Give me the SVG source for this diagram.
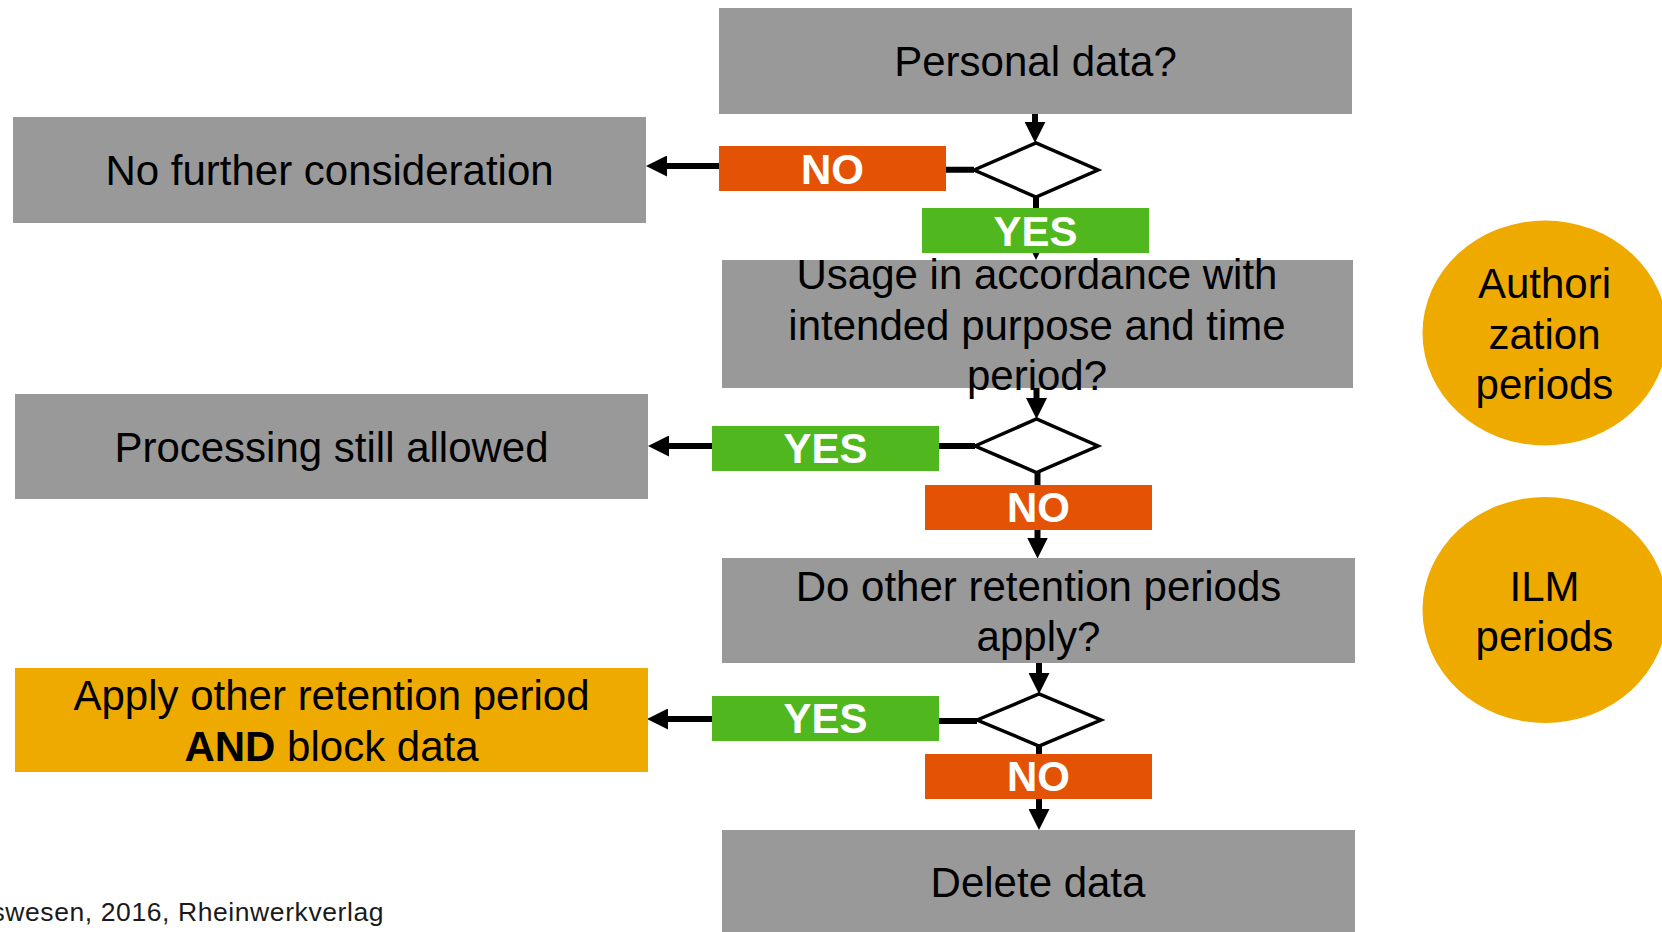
<svg xmlns="http://www.w3.org/2000/svg" width="1662" height="932" viewBox="0 0 1662 932">
  <style>
    .box { fill: #999999; }
    .ybox { fill: #EFAA00; }
    .no { fill: #E35205; }
    .yes { fill: #50B71E; }
    .dia { fill: #ffffff; stroke: #000000; stroke-width: 3.5; stroke-linejoin: miter; }
    .t { font-family: "Liberation Sans", Arial, sans-serif; font-size: 42px; fill: #000000; text-anchor: middle; }
    .lbl { font-family: "Liberation Sans", Arial, sans-serif; font-size: 42px; font-weight: bold; fill: #ffffff; text-anchor: middle; }
    .con { fill: none; stroke: #000000; stroke-width: 6; }
    .foot { font-family: "Liberation Sans", Arial, sans-serif; font-size: 26.5px; fill: #1a1a1a; text-anchor: start; }
  </style>
  <defs>
    <marker id="arr" markerUnits="userSpaceOnUse" viewBox="0 0 21 21" markerWidth="21" markerHeight="21" refX="11" refY="10.5" orient="auto">
      <path d="M0,0 L21,10.5 L0,21 Z" fill="#000000"/>
    </marker>
  </defs>
  <rect width="1662" height="932" fill="#ffffff"/>

  <g id="connectors">
    <path class="con" d="M1035,114 V132.7" marker-end="url(#arr)"/>
    <path class="con" d="M1036,196 V250" marker-end="url(#arr)"/>
    <path class="con" d="M974,169.7 H940"/>
    <path class="con" d="M725,166 H656" marker-end="url(#arr)"/>
    <path class="con" d="M1036.5,388 V409" marker-end="url(#arr)"/>
    <path class="con" d="M975,446 H935"/>
    <path class="con" d="M716,446 H658" marker-end="url(#arr)"/>
    <path class="con" d="M1037.5,472 V548.5" marker-end="url(#arr)"/>
    <path class="con" d="M1039,663 V684" marker-end="url(#arr)"/>
    <path class="con" d="M977,721 H935"/>
    <path class="con" d="M716,719 H657" marker-end="url(#arr)"/>
    <path class="con" d="M1039,746 V820" marker-end="url(#arr)"/>
  </g>

  <g id="personal-data">
    <rect class="box" x="719" y="8" width="633" height="106"/>
    <text class="t" x="1035.5" y="76">Personal data?</text>
  </g>
  <g id="decision-1">
    <polygon class="dia" points="974,170 1036,143 1098,170 1036,197"/>
  </g>
  <g id="label-no-1">
    <rect class="no" x="719" y="146" width="227" height="45"/>
    <text class="lbl" x="832.5" y="183.5">NO</text>
  </g>
  <g id="label-yes-1">
    <rect class="yes" x="922" y="208" width="227" height="45"/>
    <text class="lbl" x="1035.5" y="245.5">YES</text>
  </g>
  <g id="no-further">
    <rect class="box" x="13" y="117" width="633" height="106"/>
    <text class="t" x="329.5" y="185">No further consideration</text>
  </g>

  <g id="usage">
    <rect class="box" x="722" y="260" width="631" height="128"/>
    <text class="t" x="1037" y="289">Usage in accordance with</text>
    <text class="t" x="1037" y="339.5">intended purpose and time</text>
    <text class="t" x="1037" y="390">period?</text>
  </g>
  <g id="decision-2">
    <polygon class="dia" points="975,446 1036.5,419 1098,446 1036.5,472.5"/>
  </g>
  <g id="label-yes-2">
    <rect class="yes" x="712" y="426" width="227" height="45"/>
    <text class="lbl" x="825.5" y="463">YES</text>
  </g>
  <g id="label-no-2">
    <rect class="no" x="925" y="485" width="227" height="45"/>
    <text class="lbl" x="1038.5" y="522">NO</text>
  </g>
  <g id="processing">
    <rect class="box" x="15" y="394" width="633" height="105"/>
    <text class="t" x="331.5" y="461.5">Processing still allowed</text>
  </g>

  <g id="other-retention">
    <rect class="box" x="722" y="558" width="633" height="105"/>
    <text class="t" x="1038.5" y="601">Do other retention periods</text>
    <text class="t" x="1038.5" y="651">apply?</text>
  </g>
  <g id="decision-3">
    <polygon class="dia" points="977,720 1039,694 1101,720 1039,746"/>
  </g>
  <g id="label-yes-3">
    <rect class="yes" x="712" y="696" width="227" height="45"/>
    <text class="lbl" x="825.5" y="733">YES</text>
  </g>
  <g id="label-no-3">
    <rect class="no" x="925" y="754" width="227" height="45"/>
    <text class="lbl" x="1038.5" y="791">NO</text>
  </g>
  <g id="apply-block">
    <rect class="ybox" x="15" y="668" width="633" height="104"/>
    <text class="t" x="331.5" y="710">Apply other retention period</text>
    <text class="t" x="331.5" y="761"><tspan font-weight="bold">AND</tspan> block data</text>
  </g>

  <g id="delete">
    <rect class="box" x="722" y="830" width="633" height="102"/>
    <text class="t" x="1038" y="896.5">Delete data</text>
  </g>

  <g id="authorization-periods">
    <ellipse class="ybox" cx="1545" cy="333" rx="122.5" ry="112.5"/>
    <text class="t" x="1544.5" y="298">Authori</text>
    <text class="t" x="1544.5" y="348.5">zation</text>
    <text class="t" x="1544.5" y="399">periods</text>
  </g>
  <g id="ilm-periods">
    <ellipse class="ybox" cx="1545" cy="610" rx="122.5" ry="113"/>
    <text class="t" x="1544.5" y="600.5">ILM</text>
    <text class="t" x="1544.5" y="651">periods</text>
  </g>

  <text class="foot" x="-8.5" y="921" textLength="392" lengthAdjust="spacing">swesen, 2016, Rheinwerkverlag</text>
</svg>
